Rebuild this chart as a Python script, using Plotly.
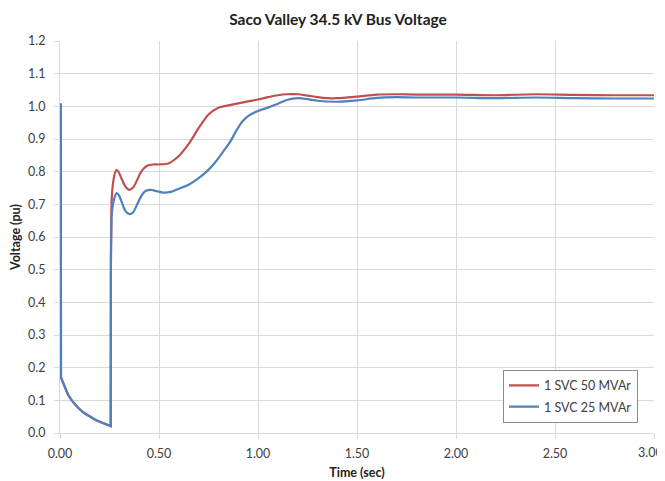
import plotly.graph_objects as go

# ---- data ----
t_fault = [0.0, 0.004, 0.005, 0.02, 0.04, 0.06, 0.09, 0.12, 0.15, 0.18, 0.21, 0.24, 0.256]
v_fault = [1.005, 1.005, 0.170, 0.145, 0.118, 0.099, 0.078, 0.062, 0.050, 0.040, 0.032, 0.025, 0.021]

t_svc25 = [0.257, 0.260, 0.265, 0.275, 0.285, 0.295, 0.31, 0.33, 0.35, 0.37, 0.39, 0.41, 0.43,
           0.46, 0.49, 0.52, 0.56, 0.60, 0.65, 0.70, 0.74, 0.78, 0.82, 0.86, 0.89, 0.92, 0.95,
           1.0, 1.05, 1.1, 1.15, 1.2, 1.25, 1.3, 1.4, 1.5, 1.6, 1.7, 1.8, 2.0, 2.2, 2.4, 2.6,
           2.8, 3.0]
v_svc25 = [0.50, 0.66, 0.69, 0.72, 0.734, 0.730, 0.710, 0.680, 0.670, 0.676, 0.700, 0.725, 0.740,
           0.744, 0.740, 0.736, 0.738, 0.748, 0.760, 0.780, 0.800, 0.826, 0.858, 0.892, 0.925,
           0.953, 0.970, 0.986, 0.996, 1.008, 1.020, 1.025, 1.022, 1.017, 1.014, 1.018, 1.026,
           1.028, 1.027, 1.027, 1.025, 1.027, 1.025, 1.024, 1.024]

t_svc50 = [0.257, 0.260, 0.265, 0.275, 0.285, 0.295, 0.31, 0.33, 0.35, 0.37, 0.39, 0.41, 0.44,
           0.47, 0.50, 0.55, 0.60, 0.65, 0.70, 0.75, 0.80, 0.85, 0.90, 0.95, 1.0, 1.05, 1.1,
           1.15, 1.2, 1.25, 1.3, 1.35, 1.4, 1.5, 1.6, 1.7, 1.8, 2.0, 2.2, 2.4, 2.6, 2.8, 3.0]
v_svc50 = [0.55, 0.70, 0.75, 0.79, 0.805, 0.800, 0.780, 0.755, 0.744, 0.752, 0.775, 0.800, 0.818,
           0.822, 0.822, 0.826, 0.848, 0.885, 0.933, 0.975, 0.996, 1.003, 1.009, 1.015, 1.021,
           1.028, 1.034, 1.037, 1.037, 1.033, 1.028, 1.025, 1.025, 1.030, 1.036, 1.037, 1.036,
           1.036, 1.034, 1.037, 1.035, 1.034, 1.034]

series_names = ["1 SVC 50 MVAr", "1 SVC 25 MVAr"]
x_ticks = [0.0, 0.5, 1.0, 1.5, 2.0, 2.5, 3.0]
x_tick_labels = ["0.00", "0.50", "1.00", "1.50", "2.00", "2.50", "3.00"]
y_ticks = [0.0, 0.1, 0.2, 0.3, 0.4, 0.5, 0.6, 0.7, 0.8, 0.9, 1.0, 1.1, 1.2]

RED = "#C0504D"
BLUE = "#4F81BD"
FONT = "Lato"
GRID = "#d9d9d9"
TICKC = "#404040"

# page body has an 8px default margin; size the figure so it fits the window
W, H = 657, 473


def add_series(name, color, t_rec, v_rec):
    # fault portion with sharp steps (linear), recovery portion smooth (spline)
    fig.add_trace(go.Scatter(x=t_fault + t_rec[:2], y=v_fault + v_rec[:2], mode="lines",
                             name=name, legendgroup=name, showlegend=True,
                             line=dict(color=color, width=2.2)))
    fig.add_trace(go.Scatter(x=t_rec[1:], y=v_rec[1:], mode="lines",
                             name=name, legendgroup=name, showlegend=False,
                             line=dict(color=color, width=2.2, shape="spline", smoothing=0.8)))


fig = go.Figure()
add_series(series_names[0], RED, t_svc50, v_svc50)
add_series(series_names[1], BLUE, t_svc25, v_svc25)

fig.update_layout(
    width=W, height=H,
    margin=dict(l=52, r=11, t=33, b=48, autoexpand=False),
    paper_bgcolor="white", plot_bgcolor="white",
    font=dict(family=FONT, size=12, color=TICKC),
    title=dict(text="<b>Saco Valley 34.5 kV Bus Voltage</b>", x=330 / W, xanchor="center",
               y=1 - 12 / H, yref="container", yanchor="middle",
               font=dict(family=FONT, size=15.5, color="#222222")),
    showlegend=True,
    legend=dict(x=0.973, y=0.026, xanchor="right", yanchor="bottom",
                bordercolor="#8c8c8c", borderwidth=1, bgcolor="white",
                font=dict(family=FONT, size=12.5, color=TICKC),
                itemwidth=30, tracegroupgap=2),
)
# last tick label sits at the window edge, drawn as an annotation so it stays visible
fig.add_annotation(x=1, xref="paper", xshift=11, xanchor="right",
                   y=0, yref="paper", yshift=-19, yanchor="middle",
                   text=x_tick_labels[-1], showarrow=False,
                   font=dict(family=FONT, size=12.5, color=TICKC))
fig.update_xaxes(range=[0, 3], tickvals=x_ticks, ticktext=x_tick_labels[:-1] + [""],
                 showgrid=True, gridcolor=GRID, gridwidth=1,
                 showline=True, linecolor=GRID, zeroline=False,
                 ticks="outside", ticklen=5, tickcolor=GRID,
                 ticklabelstandoff=4, automargin=False,
                 tickfont=dict(size=12.5, color=TICKC),
                 title=dict(text="<b>Time (sec)</b>", standoff=8,
                            font=dict(size=12.5, color="#222222")))
fig.update_yaxes(range=[0, 1.2], tickvals=y_ticks, tickformat=".1f",
                 showgrid=True, gridcolor=GRID, gridwidth=1,
                 showline=True, linecolor=GRID, zeroline=False,
                 ticks="outside", ticklen=5, tickcolor=GRID,
                 ticklabelstandoff=6, automargin=False,
                 tickfont=dict(size=12.5, color=TICKC),
                 title=dict(text="<b>Voltage (pu)</b>", standoff=11,
                            font=dict(size=12.5, color="#222222")))

fig.write_html("out.html")
